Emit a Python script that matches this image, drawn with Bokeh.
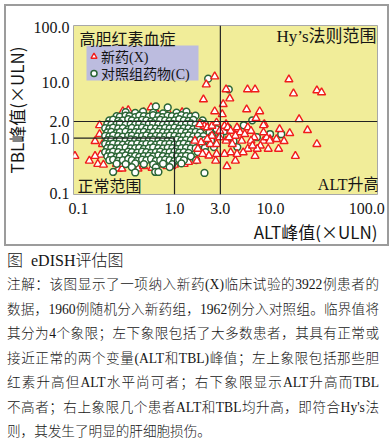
from bokeh.plotting import figure
from bokeh.layouts import column
from bokeh.models import (ColumnDataSource, Label, Legend, LegendItem, Div, Title, BoxAnnotation,
                          FixedTicker, NumeralTickFormatter, Span, InlineStyleSheet)
from bokeh.embed import file_html
from bokeh.resources import INLINE

# ---------------- data ----------------
ALT_ULN = 1.0
TBL_ULN = 1.0
ALT_HY = 3.0
TBL_HY = 2.0

x_ticks = [0.1, 1.0, 3.0, 10.0, 100.0]
y_ticks = [0.1, 1.0, 2.0, 10.0, 100.0]

# new drug (X): peak ALT / peak TBL (x ULN)
drug_alt = [
    2.62, 2.14, 3.44, 3.76, 5.75, 6.89, 15.5, 17.3, 30.3, 33.9, 2.0, 3.21, 2.62, 3.14, 5.63, 7.7, 7.05, 19.8,
    8.6, 4.6, 3.44, 24.2, 12.4, 15.8, 11.5, 13.8, 30.3, 12.1, 9.44, 9.86, 18.1, 3.51, 2.68, 4.30, 6.89, 1.26, 1.0, 1.71, 8.43,
    2.04, 2.19, 2.45, 2.74, 2.95, 3.31, 3.57, 3.84, 4.47, 4.81, 5.79, 6.25, 6.74, 8.43, 9.08, 9.8, 7.83, 7.26, 5.79, 5.18,
    4.47, 3.84, 3.31, 2.74, 2.28, 1.96, 1.75, 1.51, 1.20, 1.12, 1.25, 1.40, 0.96, 2.36, 2.74, 3.44, 3.99, 5.0, 6.25, 5.38,
    6.48, 8.43, 4.30, 3.70, 2.95, 2.45, 2.19, 1.89, 1.63, 1.57, 1.83,
    0.092, 0.13, 0.149, 0.17, 0.159, 0.182, 0.222, 0.26, 0.284, 0.39, 0.417, 0.584, 0.60, 0.166, 0.166, 0.178, 0.208,
    0.29, 0.33, 0.41, 0.48, 0.57, 0.874, 0.249, 0.291, 0.364, 0.477, 0.714, 0.836, 0.935, 0.149, 1.20, 1.34, 1.50,
    0.80, 0.67, 0.364,
]
drug_tbl = [
    13.0, 9.3, 7.6, 5.2, 7.6, 7.6, 11.5, 6.4, 7.3, 6.7, 5.0, 4.1, 3.05, 2.7, 3.3, 3.05, 2.29, 2.19,
    1.78, 1.45, 1.78, 1.39, 1.45, 1.23, 0.96, 0.88, 0.78, 0.64, 0.64, 0.96, 0.475, 0.31, 0.39, 0.39, 0.475, 0.34, 0.33, 0.39, 1.71,
    1.66, 1.56, 1.66, 1.91, 1.35, 1.66, 1.56, 1.35, 1.56, 1.27, 1.56, 1.35, 1.03, 0.895, 1.03, 0.895, 0.73, 0.64, 0.64, 0.553,
    0.516, 0.553, 0.516, 0.516, 0.481, 0.516, 0.64, 0.68, 0.553, 0.45, 0.39, 0.37, 0.39, 0.78, 0.78, 0.895, 0.78, 0.895, 0.895, 1.18,
    0.73, 1.27, 1.10, 1.03, 1.03, 1.10, 0.96, 0.84, 0.895, 1.64, 1.78,
    0.475, 0.39, 0.88, 0.50, 0.34, 0.33, 0.42, 0.28, 0.28, 0.29, 0.28, 0.29, 0.39, 1.18, 1.71, 0.78, 1.28,
    3.05, 3.2, 2.45, 2.95, 3.6, 2.8, 0.34, 0.34, 0.34, 0.31, 0.33, 0.31, 0.31, 0.475, 2.93, 2.48, 2.38,
    2.38, 2.7, 2.38,
]

# control (C): peak ALT / peak TBL (x ULN)
control_alt = [
    0.31, 0.39, 0.47, 0.60, 0.76, 1.05, 1.33,
    0.64, 0.85, 2.24, 3.67,
    0.25, 0.27, 0.31, 0.34, 0.39, 0.43, 0.48, 0.54, 0.60, 0.68, 0.75, 0.85, 0.94, 1.06, 1.18, 1.33, 1.47, 1.65,
    0.21, 0.23, 0.26, 0.29, 0.33, 0.36, 0.41, 0.46, 0.51, 0.57, 0.64, 0.71, 0.80, 0.89, 1.0, 1.12, 1.25, 1.40, 1.57, 1.96,
    0.20, 0.22, 0.25, 0.27, 0.31, 0.35, 0.39, 0.43, 0.48, 0.54, 0.60, 0.68, 0.76, 0.85, 0.95, 1.06, 1.18, 1.32, 1.48, 1.66, 2.07,
    0.19, 0.21, 0.23, 0.26, 0.29, 0.33, 0.36, 0.41, 0.46, 0.51, 0.57, 0.64, 0.71, 0.80, 0.89, 1.0, 1.12, 1.25, 1.40, 1.57, 1.75, 2.2,
    0.20, 0.22, 0.25, 0.27, 0.31, 0.35, 0.39, 0.43, 0.48, 0.54, 0.60, 0.68, 0.76, 0.85, 0.95, 1.06, 1.18, 1.32, 1.48, 1.66, 1.85, 2.32,
    0.19, 0.21, 0.23, 0.26, 0.29, 0.33, 0.36, 0.41, 0.46, 0.51, 0.57, 0.64, 0.71, 0.80, 0.89, 1.0, 1.12, 1.25, 1.40, 1.57, 1.75, 2.0, 2.45,
    0.20, 0.22, 0.25, 0.27, 0.31, 0.35, 0.39, 0.43, 0.48, 0.54, 0.60, 0.68, 0.76, 0.85, 0.95, 1.06, 1.18, 1.32, 1.48, 1.66, 1.85, 2.07,
    0.19, 0.21, 0.23, 0.26, 0.29, 0.33, 0.36, 0.41, 0.46, 0.51, 0.57, 0.64, 0.71, 0.80, 0.89, 1.0, 1.12, 1.25, 1.40, 1.57, 1.96,
    0.20, 0.22, 0.25, 0.27, 0.31, 0.35, 0.39, 0.43, 0.48, 0.54, 0.60, 0.68, 0.76, 0.85, 0.95, 1.06, 1.18, 1.32, 1.48, 1.66, 2.07,
    0.19, 0.21, 0.23, 0.26, 0.29, 0.33, 0.36, 0.41, 0.46, 0.51, 0.57, 0.64, 0.71, 0.80, 0.89, 1.0, 1.12, 1.25, 1.40, 1.75,
    0.20, 0.22, 0.25, 0.27, 0.31, 0.35, 0.39, 0.43, 0.48, 0.54, 0.60, 0.68, 0.76, 0.85, 0.95, 1.06, 1.18, 1.32, 1.48,
    0.21, 0.23, 0.26, 0.29, 0.33, 0.36, 0.41, 0.46, 0.51, 0.57, 0.64, 0.71, 0.80, 0.89, 1.0, 1.12, 1.25, 1.68,
    0.25, 0.31, 0.39, 0.48, 0.60, 0.76, 0.95, 1.18,
    0.36, 0.64, 0.89,
    0.23, 0.39, 0.63, 0.68, 2.05,
    1.87, 2.74, 3.28, 4.11, 4.5, 2.57, 5.26, 6.44, 7.2, 9.86, 12.9, 2.1, 3.0, 2.4, 3.6,
]
control_tbl = [
    2.95, 2.85, 3.0, 2.9, 2.8, 2.9, 3.0,
    3.75, 3.6, 11.9, 7.6,
    2.5, 2.45, 2.55, 2.5, 2.4, 2.55, 2.5, 2.45, 2.6, 2.5, 2.4, 2.55, 2.5, 2.45, 2.6, 2.5, 2.45, 2.55,
    2.1, 2.15, 2.05, 2.1, 2.2, 2.1, 2.05, 2.15, 2.1, 2.0, 2.1, 2.15, 2.1, 2.05, 2.1, 2.2, 2.1, 2.05, 2.15, 2.1,
    1.8, 1.75, 1.8, 1.85, 1.75, 1.8, 1.78, 1.82, 1.75, 1.8, 1.85, 1.78, 1.75, 1.8, 1.82, 1.78, 1.75, 1.8, 1.85, 1.76, 1.8,
    1.52, 1.48, 1.55, 1.5, 1.52, 1.46, 1.53, 1.5, 1.55, 1.48, 1.52, 1.5, 1.47, 1.53, 1.5, 1.55, 1.49, 1.52, 1.5, 1.46, 1.53, 1.5,
    1.27, 1.3, 1.25, 1.28, 1.31, 1.26, 1.29, 1.27, 1.3, 1.25, 1.28, 1.3, 1.27, 1.26, 1.29, 1.28, 1.31, 1.26, 1.28, 1.3, 1.27, 1.28,
    1.1, 1.08, 1.12, 1.09, 1.07, 1.1, 1.11, 1.08, 1.09, 1.12, 1.07, 1.1, 1.09, 1.08, 1.11, 1.1, 1.07, 1.09, 1.12, 1.08, 1.1, 1.09, 1.11,
    0.92, 0.94, 0.9, 0.93, 0.91, 0.95, 0.92, 0.9, 0.93, 0.92, 0.94, 0.91, 0.93, 0.9, 0.92, 0.94, 0.91, 0.93, 0.92, 0.9, 0.94, 0.92,
    0.79, 0.77, 0.8, 0.78, 0.76, 0.79, 0.78, 0.8, 0.77, 0.79, 0.78, 0.76, 0.8, 0.78, 0.79, 0.77, 0.78, 0.8, 0.76, 0.79, 0.78,
    0.66, 0.67, 0.65, 0.66, 0.68, 0.65, 0.66, 0.67, 0.64, 0.66, 0.68, 0.66, 0.65, 0.67, 0.66, 0.64, 0.66, 0.67, 0.65, 0.66, 0.67,
    0.56, 0.55, 0.57, 0.56, 0.54, 0.57, 0.56, 0.55, 0.57, 0.56, 0.54, 0.56, 0.57, 0.55, 0.56, 0.57, 0.55, 0.56, 0.54, 0.56,
    0.47, 0.48, 0.46, 0.475, 0.49, 0.47, 0.48, 0.46, 0.475, 0.48, 0.47, 0.49, 0.475, 0.46, 0.48, 0.47, 0.475, 0.48, 0.47,
    0.40, 0.41, 0.39, 0.40, 0.42, 0.40, 0.39, 0.41, 0.40, 0.42, 0.39, 0.40, 0.41, 0.40, 0.39, 0.41, 0.40, 0.40,
    0.345, 0.34, 0.35, 0.34, 0.335, 0.345, 0.34, 0.35,
    0.30, 0.295, 0.30,
    0.245, 0.24, 0.245, 0.245, 0.235,
    1.86, 1.45, 1.34, 0.88, 0.69, 0.69, 1.71, 2.10, 1.04, 1.18, 1.18, 0.56, 1.1, 0.9, 1.55,
]
assert len(drug_alt) == len(drug_tbl)
assert len(control_alt) == len(control_tbl)

legend_labels = ["新药(X)", "对照组药物(C)"]
caption_title = "图  eDISH评估图"
caption_lines = [
    "注解：该图显示了一项纳入新药(X)临床试验的3922例患者的",
    "数据，1960例随机分入新药组，1962例分入对照组。临界值将",
    "其分为4个象限；左下象限包括了大多数患者，其具有正常或",
    "接近正常的两个变量(ALT和TBL)峰值；左上象限包括那些胆",
    "红素升高但ALT水平尚可者；右下象限显示ALT升高而TBL",
    "不高者；右上象限几个患者ALT和TBL均升高，即符合Hy's法",
    "则，其发生了明显的肝细胞损伤。",
]

# ---------------- chart ----------------
SERIF_CJK = "Liberation Serif, Noto Sans CJK SC"
SANS_CJK = "Noto Sans CJK SC"
INK = "#151515"

box_css = InlineStyleSheet(css=(
    ":host { position: relative; }"
    ":host::after { content: ''; position: absolute; left: 4px; top: 4px; width: 385px; height: 242px;"
    " box-sizing: border-box; border: 2px solid #9C9C9C; pointer-events: none; z-index: 10; }"
))

p = figure(width=390, height=249, x_axis_type="log", y_axis_type="log",
           x_range=(0.0889, 129.5), y_range=(0.0959, 108.7),
           output_backend="svg", toolbar_location=None,
           min_border_left=67, min_border_right=13, min_border_top=25, min_border_bottom=55,
           background_fill_color="#F1ED99", border_fill_color="white",
           stylesheets=[box_css])
p.outline_line_color = "#A8A8A8"
p.outline_line_width = 1
p.grid.visible = False

for ax, ticks in ((p.xaxis, x_ticks), (p.yaxis, y_ticks)):
    ax.ticker = FixedTicker(ticks=ticks, minor_ticks=[])
    ax.formatter = NumeralTickFormatter(format="0.0")
    ax.axis_line_color = None
    ax.major_tick_line_color = None
    ax.minor_tick_line_color = None
    ax.major_tick_out = 0
    ax.major_tick_in = 0
    ax.major_label_text_font = "Liberation Serif"
    ax.major_label_text_font_size = "16px"
    ax.major_label_text_color = INK
    ax.axis_label_text_font = SANS_CJK
    ax.axis_label_text_font_size = "17px"
    ax.axis_label_text_font_style = "normal"
    ax.axis_label_text_color = INK
    ax.axis_label_standoff = 2
p.xaxis.major_label_standoff = 8
p.yaxis.major_label_standoff = 4
p.yaxis.axis_label = "TBL峰值(×ULN)"
p.add_layout(Title(text="ALT峰值(×ULN)", align="right", text_font=SANS_CJK,
                   text_font_size="17px", text_font_style="normal", text_color=INK,
                   standoff=0, offset=0), "below")

under = [i for i, a in enumerate(drug_alt) if a < 1.6]
over = [i for i, a in enumerate(drug_alt) if a >= 1.6]
src_under = ColumnDataSource(dict(alt=[drug_alt[i] for i in under], tbl=[drug_tbl[i] for i in under]))
src_over = ColumnDataSource(dict(alt=[drug_alt[i] for i in over], tbl=[drug_tbl[i] for i in over]))
src_ctrl = ColumnDataSource(dict(alt=control_alt, tbl=control_tbl))

RED = "#F01C1C"
GREEN = "#2A6535"
r_drug = p.scatter("alt", "tbl", source=src_under, marker="triangle", size=8,
                   fill_color="white", line_color=RED, line_width=1.4)
r_ctrl = p.scatter("alt", "tbl", source=src_ctrl, marker="circle", size=6.8,
                   fill_color="white", line_color=GREEN, line_width=1.5)
p.scatter("alt", "tbl", source=src_over, marker="triangle", size=8,
          fill_color="white", line_color=RED, line_width=1.4)

# threshold lines
LINE = "#222222"
p.segment(x0=[p.x_range.start, ALT_ULN], y0=[TBL_ULN, p.y_range.start],
          x1=[ALT_ULN, ALT_ULN], y1=[TBL_ULN, TBL_ULN], line_color=LINE, line_width=1.2)
p.add_layout(Span(location=ALT_HY, dimension="height", line_color=LINE, line_width=1.2))
p.add_layout(Span(location=TBL_HY, dimension="width", line_color=LINE, line_width=1.2))

# legend: lavender panel with one row per series
p.add_layout(BoxAnnotation(left=13, right=125, bottom=114, top=149,
                           left_units="screen", right_units="screen",
                           top_units="screen", bottom_units="screen",
                           fill_color="#BCBCDF", fill_alpha=1.0, line_color=None))
for renderer, text, y_loc in ((r_drug, legend_labels[0], 128), (r_ctrl, legend_labels[1], 111)):
    p.add_layout(Legend(items=[LegendItem(label=text, renderers=[renderer])],
                        location=(13, y_loc), background_fill_alpha=0.0, border_line_color=None,
                        label_text_font=SERIF_CJK, label_text_font_size="14px",
                        label_text_color=INK, glyph_width=15, glyph_height=16, label_height=16,
                        label_standoff=0, spacing=0, padding=0, margin=0))


def lab(text, sx, sy, size, align="left", font=SERIF_CJK):
    p.add_layout(Label(x=sx, y=sy, x_units="screen", y_units="screen", text=text,
                       text_font=font, text_font_size=size, text_align=align,
                       text_baseline="middle", text_color=INK))


lab("高胆红素血症", 6, 157, "16px", font=SANS_CJK)
lab("Hy’s法则范围", 303, 158, "17px", align="right")
lab("正常范围", 4, 10, "16px", font=SANS_CJK)
lab("ALT升高", 306, 10, "16px", align="right")

# ---------------- caption ----------------
FONT_CSS = "'Liberation Serif','Noto Sans CJK SC',serif"
rows = [f'<div style="font-size:16px;line-height:24px;">{caption_title.replace("  ", "&nbsp;&nbsp;")}</div>']
for k, line in enumerate(caption_lines):
    last = k == len(caption_lines) - 1
    just = "left" if last else "justify"
    rows.append(f'<div style="font-size:13.6px;line-height:24.5px;text-align:{just};'
                f'text-align-last:{just};">{line}</div>')
caption = Div(text=(f'<div style="width:381px;padding:0 2px 0 7px;font-family:{FONT_CSS};'
                    f'color:{INK};font-weight:300;">' + "".join(rows) + "</div>"),
              width=390, height=195, styles={"margin": "0", "padding": "0"})

layout = column(p, caption, spacing=0)
open("out.html", "w").write(file_html(layout, INLINE))
